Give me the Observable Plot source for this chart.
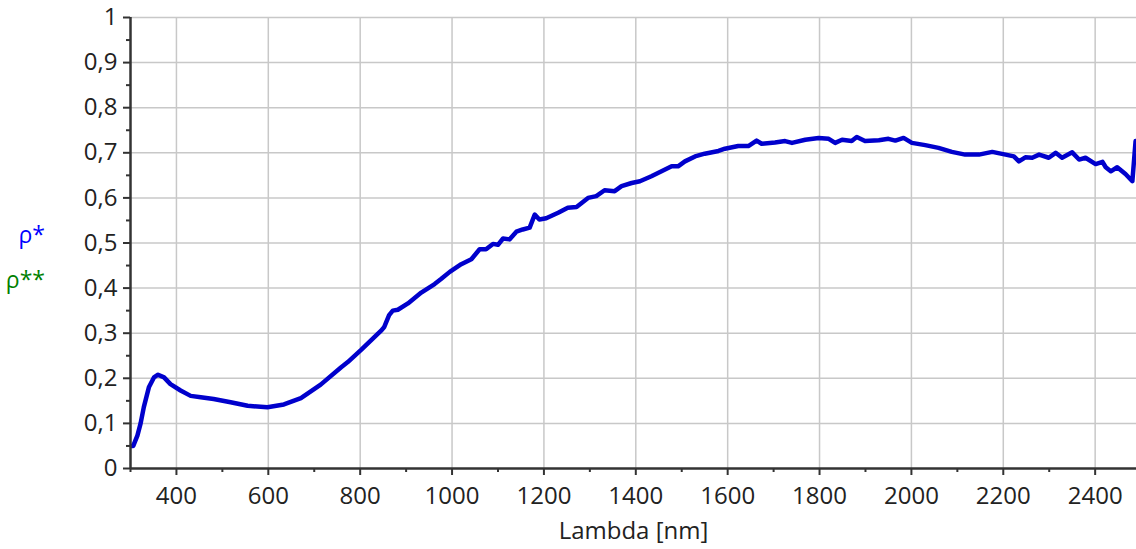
<!DOCTYPE html>
<html>
<head>
<meta charset="utf-8">
<script src="https://cdn.jsdelivr.net/npm/d3@7"></script>
<script src="https://cdn.jsdelivr.net/npm/@observablehq/plot@0.6"></script>
<style>
  html, body { margin: 0; padding: 0; background: #fff; }
  #wrap { position: relative; width: 1136px; height: 549px; font-family: "Open Sans", sans-serif; }
  .lg { position: absolute; font-size: 23px; line-height: 1; text-align: right; width: 45px; }
</style>
</head>
<body>
<div id="wrap">
  <div class="lg" id="l1" style="left:0; top:223px; color:#0000ff;"></div>
  <div class="lg" id="l2" style="left:0; top:268px; color:#008000;"></div>
</div>
<script>
const legendLabels = ["ρ*", "ρ**"];
const xLabel = "Lambda [nm]";
const xMajor = [400, 600, 800, 1000, 1200, 1400, 1600, 1800, 2000, 2200, 2400];
const xMinor = [300, 500, 700, 900, 1100, 1300, 1500, 1700, 1900, 2100, 2300];
const yMajor = [0, 0.1, 0.2, 0.3, 0.4, 0.5, 0.6, 0.7, 0.8, 0.9, 1];
const yMinor = [0.05, 0.15, 0.25, 0.35, 0.45, 0.55, 0.65, 0.75, 0.85, 0.95];

const lambda = [300, 306, 315, 322, 329, 340, 351, 360, 373, 387, 409, 431, 453, 481, 518, 555, 598, 634, 671, 714, 758, 773, 802, 845, 852, 863, 871, 882, 904, 933, 962, 976, 995, 1020, 1042, 1060, 1074, 1089, 1100, 1111, 1125, 1140, 1154, 1169, 1180, 1190, 1205, 1231, 1252, 1271, 1296, 1314, 1332, 1354, 1369, 1391, 1409, 1434, 1456, 1478, 1492, 1507, 1529, 1550, 1580, 1594, 1623, 1645, 1663, 1674, 1703, 1725, 1740, 1769, 1798, 1820, 1834, 1849, 1870, 1881, 1899, 1929, 1950, 1965, 1983, 2001, 2030, 2059, 2088, 2117, 2147, 2176, 2205, 2223, 2234, 2248, 2263, 2278, 2299, 2314, 2328, 2350, 2365, 2379, 2401, 2416, 2423, 2434, 2448, 2466, 2481, 2488];
const rho = [0.050, 0.050, 0.073, 0.100, 0.136, 0.180, 0.202, 0.208, 0.202, 0.187, 0.173, 0.161, 0.158, 0.154, 0.147, 0.139, 0.136, 0.142, 0.156, 0.186, 0.224, 0.236, 0.263, 0.305, 0.313, 0.340, 0.350, 0.352, 0.366, 0.390, 0.409, 0.420, 0.436, 0.453, 0.464, 0.486, 0.486, 0.498, 0.496, 0.510, 0.508, 0.525, 0.530, 0.534, 0.563, 0.552, 0.555, 0.567, 0.578, 0.580, 0.600, 0.604, 0.617, 0.615, 0.626, 0.633, 0.637, 0.648, 0.659, 0.670, 0.670, 0.681, 0.692, 0.698, 0.704, 0.709, 0.715, 0.715, 0.727, 0.720, 0.723, 0.726, 0.722, 0.729, 0.733, 0.731, 0.722, 0.729, 0.726, 0.735, 0.726, 0.728, 0.731, 0.727, 0.733, 0.722, 0.717, 0.711, 0.702, 0.696, 0.696, 0.702, 0.696, 0.692, 0.681, 0.690, 0.689, 0.696, 0.689, 0.700, 0.689, 0.701, 0.685, 0.689, 0.675, 0.680, 0.668, 0.659, 0.668, 0.653, 0.637, 0.726];

const data = lambda.map((x, i) => ({x, y: rho[i]}));
const fmtY = d => d === 0 ? "0" : d === 1 ? "1" : d.toFixed(1).replace(".", ",");

const chart = Plot.plot({
  width: 1136,
  height: 549,
  marginLeft: 130,
  marginRight: 0,
  marginTop: 17,
  marginBottom: 81,
  style: {fontFamily: "Open Sans, sans-serif", fontSize: "24px", color: "#222", background: "#fff"},
  x: {domain: [300, 2490]},
  y: {domain: [0, 1]},
  marks: [
    Plot.gridX(xMajor, {stroke: "#c8c8c8", strokeOpacity: 1, strokeWidth: 1.5}),
    Plot.gridY(yMajor.filter(d => d > 0), {stroke: "#c8c8c8", strokeOpacity: 1, strokeWidth: 1.5}),
    Plot.line(data, {x: "x", y: "y", stroke: "#0000cc", strokeWidth: 4.5, strokeLinejoin: "round", strokeLinecap: "round", clip: true}),
    Plot.axisX(xMajor, {tickSize: 7, tickPadding: 11, tickFormat: d => String(d), label: null, stroke: "#333", strokeWidth: 2, fontSize: 24, fill: "#222"}),
    Plot.axisX(xMinor, {tickSize: 4, tickFormat: () => "", label: null, stroke: "#333", strokeWidth: 2}),
    Plot.axisY(yMajor, {tickSize: 7, tickPadding: 6, tickFormat: fmtY, label: null, stroke: "#333", strokeWidth: 2, fontSize: 24, fill: "#222"}),
    Plot.axisY(yMinor, {tickSize: 4, tickFormat: () => "", label: null, stroke: "#333", strokeWidth: 2}),
    Plot.ruleX([300], {stroke: "#333", strokeWidth: 2.5}),
    Plot.ruleY([0], {stroke: "#333", strokeWidth: 2.5}),
    Plot.text([xLabel], {text: d => d, frameAnchor: "bottom", dy: 63, lineAnchor: "middle", fontSize: 24, fill: "#222"})
  ]
});
const wrap = document.getElementById("wrap");
wrap.insertBefore(chart, wrap.firstChild);
chart.style.position = "absolute";
chart.style.left = "0";
chart.style.top = "0";
document.getElementById("l1").textContent = legendLabels[0];
document.getElementById("l2").textContent = legendLabels[1];
</script>
</body>
</html>
